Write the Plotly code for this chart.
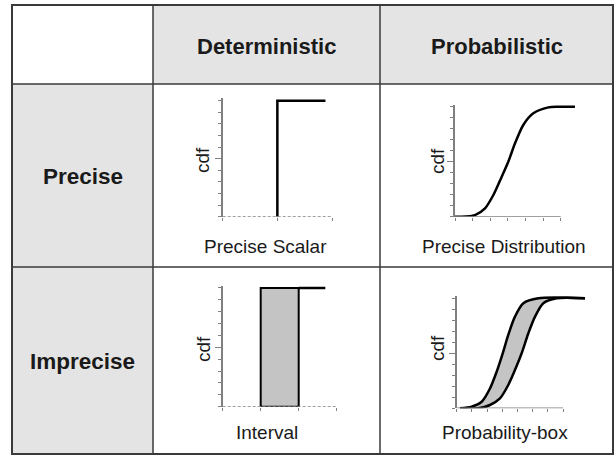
import plotly.graph_objects as go

W, H = 616, 456

# ---- text ----
col_headers = ["Deterministic", "Probabilistic"]
row_headers = ["Precise", "Imprecise"]
panel_titles = ["Precise Scalar", "Precise Distribution", "Interval", "Probability-box"]
y_title = "cdf"

# ---- data (axis units: x 0..1 along drawn axis, y = cdf) ----
scalar_value = 0.5
scalar_end = 0.94

pd_x = [0.0, 0.10, 0.189, 0.284, 0.363, 0.442, 0.504, 0.568, 0.646, 0.741, 0.883, 0.98, 1.135]
pd_y = [0.0, 0.002, 0.015, 0.076, 0.197, 0.364, 0.50, 0.667, 0.834, 0.94, 0.994, 1.0, 1.0]

interval_lo = 1 / 3
interval_hi = 2 / 3
interval_end = 0.90

ub_x = [0.031, 0.141, 0.235, 0.313, 0.376, 0.433, 0.485, 0.548, 0.627, 0.768, 1.207]
ub_y = [0.0, 0.015, 0.06, 0.18, 0.333, 0.50, 0.667, 0.833, 0.955, 1.0, 1.0]
lb_x = [0.031, 0.203, 0.313, 0.407, 0.485, 0.548, 0.611, 0.674, 0.737, 0.815, 0.94, 1.207]
lb_y = [0.0, 0.0, 0.03, 0.09, 0.212, 0.348, 0.50, 0.682, 0.833, 0.955, 1.0, 1.0]

# ---- layout geometry (pixels) ----
TL, TR, TT, TB = 12, 613, 5, 454
C1, C2 = 153, 380
R1, R2 = 84, 267

GRAY = "#e4e4e4"
BORDER = "#3a3a3a"
AXC = "#808080"
FONT = "Liberation Sans, Arial, sans-serif"
TXT = "#1a1a1a"


def px(x):
    return x / W


def py(y):
    return 1 - y / H


fig = go.Figure()

# panels: (x px at 0, x px at 1, domain right px, y px at 0, y px at 1)
panels = [
    dict(ax0=222.7, ax1=332.0, right=332.0, y0=216.7, y1=100.7, xt=[0, 0.5, 1], det=True),
    dict(ax0=455.0, ax1=560.7, right=577.0, y0=216.7, y1=106.7, xt=[i / 6 for i in range(7)], det=False),
    dict(ax0=222.7, ax1=336.7, right=336.7, y0=406.7, y1=288.0, xt=[0, 1 / 3, 2 / 3, 1], det=True),
    dict(ax0=456.7, ax1=563.0, right=587.0, y0=408.3, y1=298.3, xt=[i / 7 for i in range(8)], det=False),
]
YTOP = 1.02
shapes = []

# table cells
cells = [
    (TL, TT, C1, R1, "white"), (C1, TT, C2, R1, GRAY), (C2, TT, TR, R1, GRAY),
    (TL, R1, C1, R2, GRAY), (TL, R2, C1, TB, GRAY),
    (C1, R1, C2, R2, "white"), (C2, R1, TR, R2, "white"),
    (C1, R2, C2, TB, "white"), (C2, R2, TR, TB, "white"),
]
for x0, y0, x1, y1, c in cells:
    shapes.append(dict(type="rect", xref="paper", yref="paper", x0=px(x0), x1=px(x1),
                       y0=py(y1), y1=py(y0), fillcolor=c, line=dict(width=0), layer="below"))
for x in (C1, C2):
    shapes.append(dict(type="line", xref="paper", yref="paper", x0=px(x), x1=px(x),
                       y0=py(TB), y1=py(TT), line=dict(color=BORDER, width=1.5), layer="below"))
for y in (R1, R2):
    shapes.append(dict(type="line", xref="paper", yref="paper", x0=px(TL), x1=px(TR),
                       y0=py(y), y1=py(y), line=dict(color=BORDER, width=1.5), layer="below"))
shapes.append(dict(type="rect", xref="paper", yref="paper", x0=px(TL), x1=px(TR),
                   y0=py(TB), y1=py(TT), line=dict(color=BORDER, width=2), layer="below"))

layout_axes = {}
for i, p in enumerate(panels, start=1):
    scale = p["ax1"] - p["ax0"]
    xr = (p["right"] - p["ax0"]) / scale
    yscale = p["y0"] - p["y1"]
    top_px = p["y1"] - (YTOP - 1) * yscale
    xn = "xaxis" if i == 1 else f"xaxis{i}"
    yn = "yaxis" if i == 1 else f"yaxis{i}"
    xa = "x" if i == 1 else f"x{i}"
    ya = "y" if i == 1 else f"y{i}"
    layout_axes[xn] = dict(domain=[px(p["ax0"]), px(p["right"])], range=[0, xr],
                           anchor=ya, showline=False, showgrid=False, zeroline=False,
                           tickmode="array", tickvals=p["xt"], ticks="outside", ticklen=3,
                           tickcolor=AXC, tickwidth=1, showticklabels=False, fixedrange=True)
    layout_axes[yn] = dict(domain=[py(p["y0"]), py(top_px)], range=[0, YTOP],
                           anchor=xa, showline=True, linecolor=AXC, linewidth=1.5,
                           showgrid=False, zeroline=False,
                           tickmode="array", tickvals=[0.5], ticks="outside", ticklen=6,
                           tickcolor=AXC, tickwidth=1, showticklabels=False,
                           minor=dict(tickmode="array", tickvals=[k / 10 for k in range(11)],
                                      ticks="outside", ticklen=3, tickcolor=AXC, tickwidth=1),
                           fixedrange=True)
    # x axis line along the drawn axis
    shapes.append(dict(type="line", xref=xa, yref=ya, x0=0, x1=1, y0=0, y1=0,
                       line=dict(color=AXC, width=1.5, dash="3px,2px" if p["det"] else "solid"),
                       layer="above"))

LINE = dict(color="black", width=2.5)

# 1. Precise scalar
fig.add_trace(go.Scatter(x=[scalar_value, scalar_value, scalar_end], y=[0, 1, 1],
                         mode="lines", line=LINE, xaxis="x", yaxis="y", showlegend=False))
# 2. Precise distribution
fig.add_trace(go.Scatter(x=pd_x, y=pd_y, mode="lines", line=dict(LINE, shape="spline", smoothing=0.8),
                         xaxis="x2", yaxis="y2", showlegend=False))
# 3. Interval
fig.add_trace(go.Scatter(x=[interval_lo, interval_lo, interval_hi, interval_hi, interval_lo],
                         y=[0, 1, 1, 0, 0], mode="lines", fill="toself", fillcolor="#c4c4c4",
                         line=dict(color="black", width=2), xaxis="x3", yaxis="y3", showlegend=False))
fig.add_trace(go.Scatter(x=[interval_hi, interval_end], y=[1, 1], mode="lines", line=LINE,
                         xaxis="x3", yaxis="y3", showlegend=False))
# 4. P-box
fig.add_trace(go.Scatter(x=ub_x + lb_x[::-1], y=ub_y + lb_y[::-1], mode="lines", fill="toself",
                         fillcolor="#c4c4c4", line=dict(width=0, shape="spline", smoothing=0.8),
                         xaxis="x4", yaxis="y4", showlegend=False))
fig.add_trace(go.Scatter(x=ub_x, y=ub_y, mode="lines", line=dict(LINE, shape="spline", smoothing=0.8),
                         xaxis="x4", yaxis="y4", showlegend=False))
fig.add_trace(go.Scatter(x=lb_x, y=lb_y, mode="lines", line=dict(LINE, shape="spline", smoothing=0.8),
                         xaxis="x4", yaxis="y4", showlegend=False))

annotations = []
# headers
for t, cx in zip(col_headers, [(C1 + C2) / 2, (C2 + TR) / 2]):
    annotations.append(dict(text=f"<b>{t}</b>", x=px(cx), y=py((TT + R1) / 2 + 2), xref="paper", yref="paper",
                            showarrow=False, xanchor="center", yanchor="middle",
                            font=dict(family=FONT, size=22, color=TXT)))
for t, cy in zip(row_headers, [(R1 + R2) / 2 + 1, (R2 + TB) / 2 + 1]):
    annotations.append(dict(text=f"<b>{t}</b>", x=px((TL + C1) / 2), y=py(cy), xref="paper", yref="paper",
                            showarrow=False, xanchor="center", yanchor="middle",
                            font=dict(family=FONT, size=22.5, color=TXT)))
# panel titles
for t, (cx, cy) in zip(panel_titles, [(265, 247), (504, 247), (267, 432), (505, 432)]):
    annotations.append(dict(text=t, x=px(cx), y=py(cy), xref="paper", yref="paper",
                            showarrow=False, xanchor="center", yanchor="middle",
                            font=dict(family=FONT, size=19, color=TXT)))
# cdf labels
for cx, cy in [(202, 160), (437, 161), (203, 349), (437, 348)]:
    annotations.append(dict(text=y_title, x=px(cx), y=py(cy), xref="paper", yref="paper",
                            showarrow=False, xanchor="center", yanchor="middle", textangle=-90,
                            font=dict(family=FONT, size=19, color=TXT)))

fig.update_layout(width=W, height=H, margin=dict(l=0, r=0, t=0, b=0),
                  paper_bgcolor="white", plot_bgcolor="rgba(0,0,0,0)",
                  shapes=shapes, annotations=annotations, showlegend=False, **layout_axes)

fig.write_html("out.html", config=dict(displayModeBar=False),
               post_script="document.body.style.margin='0px';document.body.style.overflow='hidden';")
